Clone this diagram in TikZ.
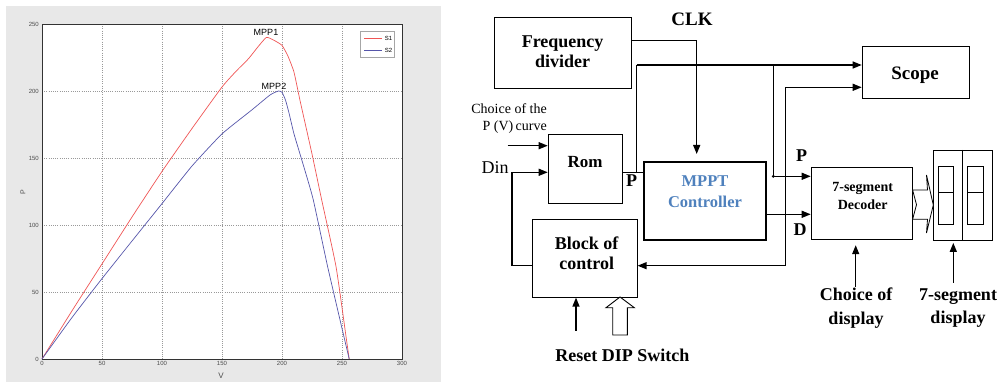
\documentclass[tikz,border=0pt]{standalone}
\usepackage{fontspec}
\setmainfont{Liberation Serif}
\newfontfamily\plotfont{Liberation Sans}
\usetikzlibrary{arrows.meta}
\definecolor{panelgray}{RGB}{232,232,232}
\definecolor{curvered}{RGB}{240,85,85}
\definecolor{curveblue}{RGB}{85,85,170}
\definecolor{mpptblue}{RGB}{79,129,189}
\begin{document}
\begin{tikzpicture}[x=1pt,y=-1pt,
  box/.style={draw,line width=0.9pt,inner sep=0pt,anchor=north west},
  bt/.style={font=\bfseries\fontsize{18}{20}\selectfont,align=center,inner sep=0pt},
  rt/.style={font=\fontsize{18}{20}\selectfont,inner sep=0pt},
  wire/.style={line width=1.3pt},
  thinw/.style={line width=0.8pt},
  arrowend/.style={-{Triangle[length=9pt,width=7pt]}},
  gridl/.style={gray!80,line width=0.5pt,dash pattern=on 1pt off 1.2pt},
  ticklbl/.style={font=\plotfont\fontsize{6}{7}\selectfont,text=gray!60!black,inner sep=1pt},
  plbl/.style={font=\plotfont\fontsize{9}{10}\selectfont,inner sep=0pt}
]
\useasboundingbox (0,0) rectangle (999,382);
% ---------------- plot panel ----------------
\fill[panelgray] (6,6) rectangle (441,382);
\fill[white] (42,24) rectangle (402,359);
\foreach \i in {1,...,5} \draw[gridl] ({42+60*\i},24) -- ({42+60*\i},359);
\foreach \i in {1,...,4} \draw[gridl] (42,{359-67*\i}) -- (402,{359-67*\i});
\draw[gray!40!black,line width=0.6pt] (42,24) rectangle (402,359);
\foreach \i/\l in {0/0,1/50,2/100,3/150,4/200,5/250,6/300}
  \node[ticklbl,anchor=north] (xt\i) at ({42+60*\i},360) {\l};
\foreach \i/\l in {0/0,1/50,2/100,3/150,4/200,5/250}
  \node[ticklbl,anchor=east] (yt\i) at (40,{359-67*\i}) {\l};
\node[ticklbl,font=\plotfont\fontsize{8}{9}\selectfont] (vlab) at (221,376) {V};
\node[ticklbl,rotate=90,font=\plotfont\fontsize{7}{8}\selectfont] (plab) at (23,192) {P};
\draw[curvered,line width=0.7pt] plot[smooth,tension=0.3] coordinates {
 (42,359) (72,310.8) (102,263.9) (132,217) (162,171.4) (192,128.5) (222,87)
 (236.4,70.9) (248.4,58.8) (258,46.8) (266.4,37.4) (273.6,40.1) (282,45.4)
 (288,56.2) (294,72.2) (300,100.4) (312,154) (321.6,199.5) (336,266.5)
 (345.6,333.5) (349.2,359)};
\draw[curveblue,line width=0.7pt] plot[smooth,tension=0.3] coordinates {
 (42,359) (72,317.5) (102,278.6) (132,241) (162,203.6) (192,166) (222,133.9)
 (252,109.8) (270,95) (278.4,91) (282,92.3) (285.6,100.4) (289.2,113.8)
 (294,133.9) (303.6,166) (313.2,199.5) (327.6,266.5) (343.2,333.5) (349.2,359)};
\node[plbl] (mpp1) at (266,32) {MPP1};
\node[plbl] (mpp2) at (274,86.5) {MPP2};
\node[draw=gray!70,line width=0.8pt,fill=white,anchor=north west,minimum width=34pt,minimum height=26pt,inner sep=0pt] (legend) at (360,31) {};
\draw[curvered,line width=0.7pt] (364,38.5) -- (382,38.5);
\draw[curveblue,line width=0.7pt] (364,50) -- (382,50);
\node[plbl,font=\plotfont\fontsize{6}{7}\selectfont] (s1) at (388.5,38.5) {S1};
\node[plbl,font=\plotfont\fontsize{6}{7}\selectfont] (s2) at (388.5,50) {S2};
% ---------------- block diagram ----------------
\node[box,minimum width=136.7pt,minimum height=70.4pt] (freq) at (494.3,17.3) {};
\node[bt] (freqt) at (562.6,52) {Frequency\\divider};
\node[box,minimum width=74.6pt,minimum height=69pt] (rom) at (547.7,133.7) {};
\node[bt,font=\bfseries\fontsize{17}{20}\selectfont] (romt) at (585,162) {Rom};
\node[box,line width=2pt,minimum width=122.2pt,minimum height=78.3pt] (mppt) at (642.5,161) {};
\node[bt,text=mpptblue,font=\bfseries\fontsize{16.5}{20.5}\selectfont] (mpptt) at (705,191.5) {MPPT\\Controller};
\node[box,minimum width=104.7pt,minimum height=77.4pt] (block) at (532,219.3) {};
\node[bt] (blockt) at (586.7,253) {Block of\\control};
\node[box,minimum width=107pt,minimum height=51.7pt] (scope) at (861.7,46.3) {};
\node[bt,font=\bfseries\fontsize{19}{20}\selectfont] (scopet) at (915,75) {Scope};
\node[box,minimum width=101pt,minimum height=72.6pt] (dec) at (810.7,166.7) {};
\node[bt,font=\bfseries\fontsize{14}{18.5}\selectfont] (dect) at (862.7,196) {7-segment\\Decoder};
\node[box,minimum width=59pt,minimum height=90pt] (disp) at (933.3,150) {};
\draw[thinw] (962.7,150) -- (962.7,240);
\draw[thinw] (938.3,166) rectangle (953.3,224.3) (938.3,192.3) -- (953.3,192.3);
\draw[thinw] (967.7,166) rectangle (983.3,224.3) (967.7,192.3) -- (983.3,192.3);
% labels
\node[bt,font=\bfseries\fontsize{19}{20}\selectfont] (clk) at (692,19) {CLK};
\node[font=\fontsize{14}{17}\selectfont,align=right,inner sep=0pt,anchor=east] (choicepv) at (547,118.5) {Choice of the\\P (V)\,curve};
\node[rt] (din) at (495,168) {Din};
\node[bt] (prom) at (631.7,181) {P};
\node[bt] (pdec) at (801.7,156) {P};
\node[bt] (ddec) at (800,229.5) {D};
\node[bt,font=\bfseries\fontsize{18}{23.5}\selectfont] (chdisp) at (856,308) {Choice of\\display};
\node[bt,font=\bfseries\fontsize{18}{23.5}\selectfont] (segdisp) at (958,308) {7-segment\\display};
\node[bt] (reset) at (622.3,355) {Reset DIP Switch};
% connectors
\coordinate (clkc) at (696.7,40.7);
\draw[thinw] (freq.east |- clkc) -- (clkc);
\draw[wire,arrowend,shorten >=7pt] (clkc) -- (clkc |- mppt.north);
\coordinate (romout) at (636.7,172.7);
\draw[thinw] (rom.east |- romout) -- (mppt.west |- romout);
\coordinate (topline) at (636.7,65);
\draw[thinw] (romout) -- (topline);
\draw[wire,arrowend] (topline) -- (scope.west |- topline);
\coordinate (brP) at (773.3,65);
\coordinate (decP) at (773.3,176.3);
\draw[wire,arrowend] (brP) -- (decP) -- (dec.west |- decP);
\fill (decP) circle (1.6pt);
\coordinate (mpptD) at (764.7,214.3);
\draw[wire,arrowend] (mppt.east |- mpptD) -- (dec.west |- mpptD);
\coordinate (fbtop) at (785.3,87.3);
\coordinate (fbbot) at (785.3,265.7);
\draw[wire,arrowend] (fbbot) -- (fbtop) -- (scope.west |- fbtop);
\draw[wire,arrowend] (fbbot) -- (block.east |- fbbot);
\coordinate (dinc) at (512,172.3);
\draw[wire,arrowend] (block.west |- fbbot) -| (dinc) -- (rom.west |- dinc);
\coordinate (pvin) at (507.7,145.7);
\draw[wire,arrowend] (pvin) -- (rom.west |- pvin);
\coordinate (rstin) at (576,330.7);
\draw[wire,arrowend] (rstin) -- (rstin |- block.south);
\draw[line width=0.9pt,fill=white] (612.7,335) -- (612.7,307.7) -- (606,307.7) -- (620,297) -- (634.3,307.7) -- (627.3,307.7) -- (627.3,335) -- cycle;
\draw[thinw,fill=white] (dec.east |- 0,190) -- (927.5,190) -- (926.5,175) -- (933.3,205) -- (926.5,233) -- (927.5,219.3) -- (dec.east |- 0,219.3) -- (916.5,204.7) -- cycle;
\coordinate (chin) at (855.7,286.7);
\draw[wire,arrowend,shorten >=5pt] (chin) -- (chin |- dec.south);
\coordinate (sgin) at (953.3,283);
\draw[wire,arrowend,shorten >=2pt] (sgin) -- (sgin |- disp.south);
\end{tikzpicture}
\end{document}
